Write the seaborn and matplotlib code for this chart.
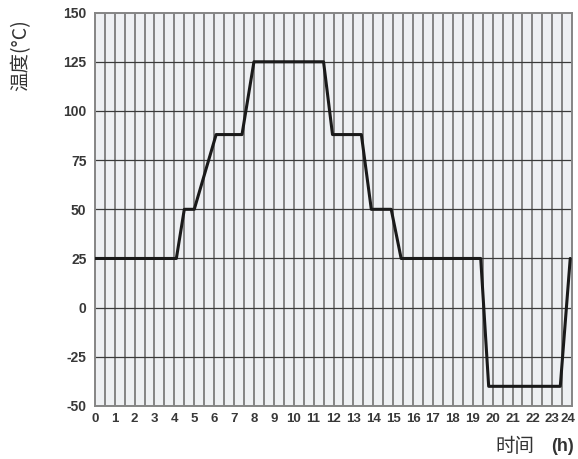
import pandas as pd
import matplotlib
matplotlib.use('Agg')
import matplotlib.pyplot as plt
import matplotlib.transforms as mtransforms
import seaborn as sns

# Temperature profile (hours, degrees C)
hours = [0, 4.1, 4.5, 5.0, 6.1, 7.4, 8.0, 11.5, 11.95, 13.4, 13.9, 14.9, 15.4, 19.4, 19.8, 23.4, 23.9]
temps = [25, 25, 50, 50, 88, 88, 125, 125, 88, 88, 50, 50, 25, 25, -40, -40, 25]

x_ticks = list(range(0, 25))
y_ticks = [-50, -25, 0, 25, 50, 75, 100, 125, 150]

profile = pd.DataFrame({'hour': hours, 'temp': temps})

sns.set_style('white')
plt.rcParams['font.family'] = ['Liberation Sans', 'Noto Sans CJK SC', 'DejaVu Sans']
plt.rcParams['axes.unicode_minus'] = False

fig = plt.figure(figsize=(5.78, 4.59), dpi=100)
ax = fig.add_axes([0.164, 0.1155, 0.826, 0.857])
ax.set_facecolor('#eef0f3')

# Grid: grey verticals every half hour, dark horizontals every 25 degrees
for v in [i * 0.5 for i in range(1, 48)]:
    ax.axvline(v, color='#858585', lw=1.4, zorder=1)
for t in y_ticks[1:-1]:
    ax.axhline(t, color='#3a3a3a', lw=0.9, zorder=2)

sns.lineplot(data=profile, x='hour', y='temp', color='#1a1a1a', lw=2.2,
             sort=False, estimator=None, ax=ax, zorder=3)

ax.set_xlim(0, 24)
ax.set_ylim(-50, 150)
ax.set_xticks(x_ticks)
ax.set_yticks(y_ticks)
ax.tick_params(length=0, labelsize=9.5, colors='#383838')
ax.tick_params(axis='y', labelsize=10, pad=6)
ax.tick_params(axis='x', pad=5)
for lbl in ax.get_xticklabels() + ax.get_yticklabels():
    lbl.set_fontweight('bold')
# nudge the last hour label so it stays inside the picture
last = ax.get_xticklabels()[-1]
last.set_transform(last.get_transform() + mtransforms.ScaledTranslation(-4 / 100, 0, fig.dpi_scale_trans))
for s in ax.spines.values():
    s.set_color('#858585')
    s.set_linewidth(1.4)

ax.set_xlabel('')
ax.set_ylabel('')
fig.text(0.036, 0.88, '温度(°C)', rotation=90, ha='center', va='center',
         fontsize=14, color='#333333', family=['Noto Sans CJK SC', 'DejaVu Sans'])
fig.text(0.925, 0.028, '时间', ha='right', va='center',
         fontsize=14, color='#333333', family=['Noto Sans CJK SC', 'DejaVu Sans'])
fig.text(0.993, 0.028, '(h)', ha='right', va='center', fontweight='bold',
         fontsize=13, color='#333333', family=['Liberation Sans', 'DejaVu Sans'])

fig.savefig('out.png', dpi=100)
